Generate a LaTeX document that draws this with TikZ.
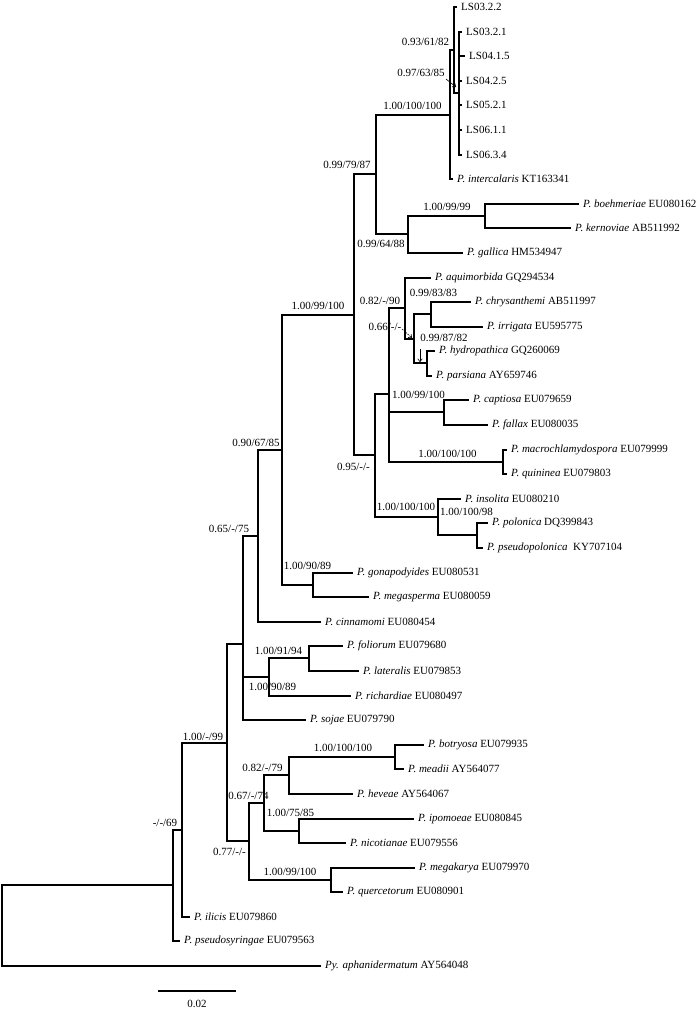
\documentclass[tikz,border=0pt]{standalone}
\usepackage{fontspec}
\setmainfont{Liberation Serif}
\usetikzlibrary{arrows.meta}
\newcommand\spn[2]{\textit{#1} #2}
\begin{document}
\begin{tikzpicture}[x=1pt,y=-1pt,
  br/.style={line width=1.8pt, line cap=rect},
  leaf/.style={anchor=west, inner sep=0pt, xshift=5pt, font=\fontsize{11}{12}\selectfont},
  lab/.style={inner sep=0pt, font=\fontsize{11}{12}\selectfont},
  pointer/.style={line width=0.6pt, -{To[length=3.5pt,width=5pt]}}]
\useasboundingbox (0,0) rectangle (700,1010);
% leaf tips
\coordinate (lsA) at (456,7);
\coordinate (lsB) at (461,32);
\coordinate (lsC) at (464,56);
\coordinate (lsD) at (461,81);
\coordinate (lsE) at (461,105);
\coordinate (lsF) at (461,130);
\coordinate (lsG) at (461,155);
\coordinate (inter) at (452,179);
\coordinate (boeh) at (578,204);
\coordinate (kern) at (570,228);
\coordinate (gall) at (462,253);
\coordinate (aqui) at (430,278);
\coordinate (chry) at (470,302);
\coordinate (irri) at (482,327);
\coordinate (hydr) at (434,351);
\coordinate (pars) at (431,376);
\coordinate (capt) at (468,400);
\coordinate (fall) at (487,425);
\coordinate (macr) at (506,450);
\coordinate (quin) at (506,474);
\coordinate (inso) at (460,499);
\coordinate (polo) at (487,523);
\coordinate (pspo) at (482,548);
\coordinate (gona) at (352,573);
\coordinate (mega) at (368,597);
\coordinate (cinn) at (320,622);
\coordinate (foli) at (342,646);
\coordinate (late) at (358,671);
\coordinate (rich) at (350,696);
\coordinate (soja) at (305,720);
\coordinate (botr) at (423,745);
\coordinate (mead) at (403,769);
\coordinate (heve) at (352,794);
\coordinate (ipom) at (413,819);
\coordinate (nico) at (345,843);
\coordinate (mgka) at (414,868);
\coordinate (quer) at (342,892);
\coordinate (ilic) at (189,917);
\coordinate (psyr) at (179,941);
\coordinate (pyth) at (320,966);
% internal nodes
\coordinate (C) at (459,93);
\coordinate (B) at (454,50);
\coordinate (A) at (450,115);
\coordinate (P1) at (485,216);
\coordinate (G1) at (408,234);
\coordinate (N79) at (376,174);
\coordinate (F) at (431,314);
\coordinate (G) at (427,363);
\coordinate (E) at (414,339);
\coordinate (D) at (405,308);
\coordinate (CF) at (444,412);
\coordinate (MQ) at (503,462);
\coordinate (H) at (389,394);
\coordinate (J) at (477,535);
\coordinate (IJ) at (438,517);
\coordinate (I) at (375,455);
\coordinate (K) at (354,315);
\coordinate (N) at (313,585);
\coordinate (M) at (282,450);
\coordinate (L) at (258,536);
\coordinate (R) at (309,658);
\coordinate (Q) at (269,677);
\coordinate (O) at (243,644);
\coordinate (S) at (395,757);
\coordinate (T) at (289,775);
\coordinate (V) at (299,831);
\coordinate (U) at (264,803);
\coordinate (X) at (331,880);
\coordinate (W) at (249,841);
\coordinate (Y) at (227,743);
\coordinate (Z) at (182,830);
\coordinate (Z2) at (173,885);
\coordinate (R0) at (2,926);
% branches
\draw[br] (R0) |- (Z2); \draw[br] (R0) |- (pyth);
\draw[br] (Z2) |- (Z); \draw[br] (Z2) |- (psyr);
\draw[br] (Z) |- (Y); \draw[br] (Z) |- (ilic);
\draw[br] (Y) |- (O); \draw[br] (Y) |- (W);
\draw[br] (O) |- (L); \draw[br] (O) |- (Q); \draw[br] (O) |- (soja);
\draw[br] (L) |- (M); \draw[br] (L) |- (cinn);
\draw[br] (M) |- (K); \draw[br] (M) |- (N);
\draw[br] (N) |- (gona); \draw[br] (N) |- (mega);
\draw[br] (K) |- (N79); \draw[br] (K) |- (I);
\draw[br] (N79) |- (A); \draw[br] (N79) |- (G1);
\draw[br] (A) |- (B); \draw[br] (A) |- (inter);
\draw[br] (B) |- (lsA); \draw[br] (B) |- (C);
\foreach \c in {lsB,lsC,lsD,lsE,lsF,lsG} \draw[br] (C) |- (\c);
\draw[br] (G1) |- (P1); \draw[br] (G1) |- (gall);
\draw[br] (P1) |- (boeh); \draw[br] (P1) |- (kern);
\draw[br] (I) |- (H); \draw[br] (I) |- (IJ);
\draw[br] (H) |- (D); \draw[br] (H) |- (CF); \draw[br] (H) |- (MQ);
\draw[br] (D) |- (aqui); \draw[br] (D) |- (E);
\draw[br] (E) |- (F); \draw[br] (E) |- (G);
\draw[br] (F) |- (chry); \draw[br] (F) |- (irri);
\draw[br] (G) |- (hydr); \draw[br] (G) |- (pars);
\draw[br] (CF) |- (capt); \draw[br] (CF) |- (fall);
\draw[br] (MQ) |- (macr); \draw[br] (MQ) |- (quin);
\draw[br] (IJ) |- (inso); \draw[br] (IJ) |- (J);
\draw[br] (J) |- (polo); \draw[br] (J) |- (pspo);
\draw[br] (Q) |- (R); \draw[br] (Q) |- (rich);
\draw[br] (R) |- (foli); \draw[br] (R) |- (late);
\draw[br] (W) |- (U); \draw[br] (W) |- (X);
\draw[br] (U) |- (T); \draw[br] (U) |- (V);
\draw[br] (T) |- (S); \draw[br] (T) |- (heve);
\draw[br] (S) |- (botr); \draw[br] (S) |- (mead);
\draw[br] (V) |- (ipom); \draw[br] (V) |- (nico);
\draw[br] (X) |- (mgka); \draw[br] (X) |- (quer);
% leaf labels
\node[leaf] (tlsA) at (lsA) {LS03.2.2};
\node[leaf] (tlsB) at (lsB) {LS03.2.1};
\node[leaf] (tlsC) at (lsC) {LS04.1.5};
\node[leaf] (tlsD) at (lsD) {LS04.2.5};
\node[leaf] (tlsE) at (lsE) {LS05.2.1};
\node[leaf] (tlsF) at (lsF) {LS06.1.1};
\node[leaf] (tlsG) at (lsG) {LS06.3.4};
\node[leaf] (tinter) at (inter) {\spn{P. intercalaris}{KT163341}};
\node[leaf] (tboeh) at (boeh) {\spn{P. boehmeriae}{EU080162}};
\node[leaf] (tkern) at (kern) {\spn{P. kernoviae}{AB511992}};
\node[leaf] (tgall) at (gall) {\spn{P. gallica}{HM534947}};
\node[leaf] (taqui) at (aqui) {\spn{P. aquimorbida}{GQ294534}};
\node[leaf] (tchry) at (chry) {\spn{P. chrysanthemi}{AB511997}};
\node[leaf] (tirri) at (irri) {\spn{P. irrigata}{EU595775}};
\node[leaf] (thydr) at (hydr) {\spn{P. hydropathica}{GQ260069}};
\node[leaf] (tpars) at (pars) {\spn{P. parsiana}{AY659746}};
\node[leaf] (tcapt) at (capt) {\spn{P. captiosa}{EU079659}};
\node[leaf] (tfall) at (fall) {\spn{P. fallax}{EU080035}};
\node[leaf] (tmacr) at (macr) {\spn{P. macrochlamydospora}{EU079999}};
\node[leaf] (tquin) at (quin) {\spn{P. quininea}{EU079803}};
\node[leaf] (tinso) at (inso) {\spn{P. insolita}{EU080210}};
\node[leaf] (tpolo) at (polo) {\spn{P. polonica}{DQ399843}};
\node[leaf] (tpspo) at (pspo) {\textit{P. pseudopolonica}\ \ KY707104};
\node[leaf] (tgona) at (gona) {\spn{P. gonapodyides}{EU080531}};
\node[leaf] (tmega) at (mega) {\spn{P. megasperma}{EU080059}};
\node[leaf] (tcinn) at (cinn) {\spn{P. cinnamomi}{EU080454}};
\node[leaf] (tfoli) at (foli) {\spn{P. foliorum}{EU079680}};
\node[leaf] (tlate) at (late) {\spn{P. lateralis}{EU079853}};
\node[leaf] (trich) at (rich) {\spn{P. richardiae}{EU080497}};
\node[leaf] (tsoja) at (soja) {\spn{P. sojae}{EU079790}};
\node[leaf] (tbotr) at (botr) {\spn{P. botryosa}{EU079935}};
\node[leaf] (tmead) at (mead) {\spn{P. meadii}{AY564077}};
\node[leaf] (theve) at (heve) {\spn{P. heveae}{AY564067}};
\node[leaf] (tipom) at (ipom) {\spn{P. ipomoeae}{EU080845}};
\node[leaf] (tnico) at (nico) {\spn{P. nicotianae}{EU079556}};
\node[leaf] (tmgka) at (mgka) {\spn{P. megakarya}{EU079970}};
\node[leaf] (tquer) at (quer) {\spn{P. quercetorum}{EU080901}};
\node[leaf] (tilic) at (ilic) {\spn{P. ilicis}{EU079860}};
\node[leaf] (tpsyr) at (psyr) {\spn{P. pseudosyringae}{EU079563}};
\node[leaf] (tpyth) at (pyth) {\spn{Py. aphanidermatum}{AY564048}};
% support labels
\node[lab] (sB) at (425.5,42) {0.93/61/82};
\node[lab] (sC) at (421,73) {0.97/63/85};
\node[lab] (sA) at (412.5,106) {1.00/100/100};
\node[lab] (sN79) at (347,165) {0.99/79/87};
\node[lab] (sP1) at (447,207) {1.00/99/99};
\node[lab] (sG1) at (381,244) {0.99/64/88};
\node[lab] (sD) at (380,301) {0.82/-/90};
\node[lab] (sF) at (433.5,293) {0.99/83/83};
\node[lab] (sE) at (385,327) {0.66/-/-};
\node[lab] (sG) at (444,338) {0.99/87/82};
\node[lab] (sCF) at (418.5,395) {1.00/99/100};
\node[lab] (sMQ) at (447.5,454) {1.00/100/100};
\node[lab] (sI) at (353.5,467) {0.95/-/-};
\node[lab] (sIJ) at (406,507) {1.00/100/100};
\node[lab] (sJ) at (466.5,512) {1.00/100/98};
\node[lab] (sK) at (318,306) {1.00/99/100};
\node[lab] (sM) at (256,443) {0.90/67/85};
\node[lab] (sN) at (307.5,566) {1.00/90/89};
\node[lab] (sL) at (229,529) {0.65/-/75};
\node[lab] (sR) at (278.5,651) {1.00/91/94};
\node[lab] (sQ) at (272.5,687) {1.00/90/89};
\node[lab] (sS) at (343,748) {1.00/100/100};
\node[lab] (sT) at (262.5,768) {0.82/-/79};
\node[lab] (sU) at (248.5,796) {0.67/-/74};
\node[lab] (sV) at (290.5,813) {1.00/75/85};
\node[lab] (sW) at (229.5,852) {0.77/-/-};
\node[lab] (sX) at (290,872) {1.00/99/100};
\node[lab] (sY) at (203,737) {1.00/-/99};
\node[lab] (sZ) at (165,823) {-/-/69};
% pointers
\coordinate (aC1) at (446,79); \coordinate (aC2) at (456,87);
\draw[pointer] (aC1) -- (aC2);
\coordinate (aE1) at (402,329); \coordinate (aE2) at (412,338);
\draw[pointer, dashed, dash pattern=on 1.5pt off 1pt] (aE1) -- (aE2);
\coordinate (aG1) at (420,349); \coordinate (aG2) at (420,362);
\draw[pointer] (aG1) -- (aG2);
% scale bar
\coordinate (sb1) at (158,991); \coordinate (sb2) at (236,991);
\draw[line width=1.8pt] (sb1) -- (sb2);
\node[lab] (sbl) at (197,1004) {0.02};
\end{tikzpicture}
\end{document}
